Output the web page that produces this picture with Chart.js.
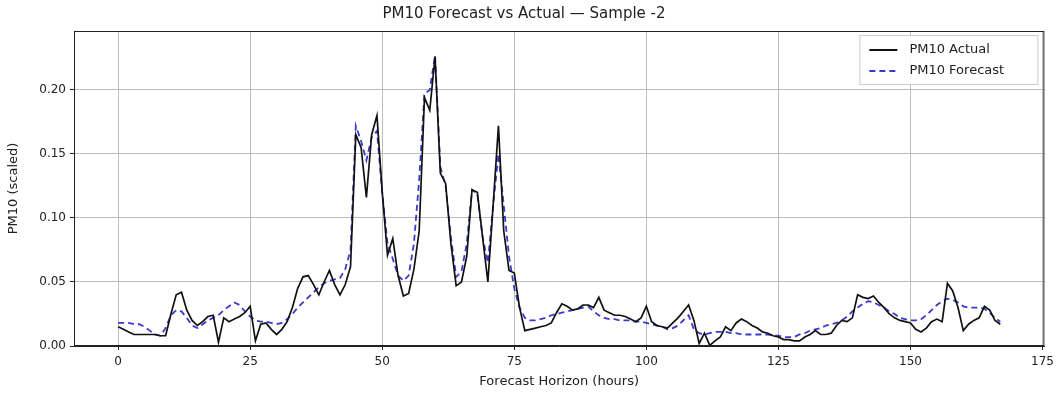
<!DOCTYPE html>
<html>
<head>
<meta charset="utf-8">
<script src="https://cdn.jsdelivr.net/npm/chart.js@4"></script>
<style>
  body { margin: 0; background: #fff; }
</style>
</head>
<body>
<canvas id="pmChart" width="1059" height="398"></canvas>
<script>
// forecast horizon, one point per hour
var hours = Array.from({ length: 168 }, (_, i) => i);

var actual = [
    0.015, 0.013, 0.011, 0.009, 0.009, 0.009, 0.009, 0.009, 0.008, 0.008,
    0.025, 0.040, 0.042, 0.028, 0.020, 0.016, 0.019, 0.023, 0.024, 0.003,
    0.022, 0.019, 0.021, 0.023, 0.026, 0.031, 0.004, 0.017, 0.018, 0.013,
    0.009, 0.013, 0.019, 0.030, 0.045, 0.054, 0.055, 0.048, 0.040, 0.050,
    0.059, 0.048, 0.040, 0.048, 0.062, 0.165, 0.155, 0.116, 0.165, 0.180,
    0.120, 0.071, 0.084, 0.055, 0.039, 0.041, 0.060, 0.090, 0.194, 0.184,
    0.226, 0.135, 0.127, 0.080, 0.047, 0.050, 0.070, 0.122, 0.120, 0.085,
    0.050, 0.110, 0.172, 0.090, 0.059, 0.057, 0.030, 0.012, 0.013, 0.014,
    0.015, 0.016, 0.018, 0.026, 0.033, 0.031, 0.028, 0.029, 0.032, 0.032,
    0.030, 0.038, 0.028, 0.026, 0.024, 0.024, 0.023, 0.021, 0.019, 0.022,
    0.031, 0.019, 0.016, 0.015, 0.014, 0.018, 0.022, 0.027, 0.032, 0.020,
    0.002, 0.010, 0.0005, 0.004, 0.007, 0.015, 0.012, 0.018, 0.021, 0.019,
    0.016, 0.014, 0.011, 0.010, 0.008, 0.007, 0.005, 0.005, 0.004, 0.004,
    0.007, 0.009, 0.012, 0.009, 0.009, 0.010, 0.016, 0.020, 0.019, 0.022,
    0.040, 0.038, 0.037, 0.039, 0.034, 0.030, 0.025, 0.022, 0.020, 0.019,
    0.018, 0.013, 0.011, 0.014, 0.019, 0.021, 0.019, 0.049, 0.043, 0.030,
    0.012, 0.017, 0.020, 0.022, 0.031, 0.028, 0.020, 0.017
];

var forecast = [
    0.018, 0.018, 0.018, 0.017, 0.017, 0.015, 0.012, 0.009, 0.008, 0.014,
    0.024, 0.028, 0.027, 0.022, 0.016, 0.014, 0.017, 0.020, 0.022, 0.024,
    0.028, 0.031, 0.034, 0.032, 0.027, 0.023, 0.020, 0.019, 0.019, 0.018,
    0.017, 0.018, 0.021, 0.025, 0.030, 0.034, 0.038, 0.042, 0.046, 0.049,
    0.051, 0.052, 0.053, 0.060, 0.075, 0.172, 0.160, 0.145, 0.163, 0.168,
    0.120, 0.080, 0.068, 0.055, 0.051, 0.055, 0.080, 0.130, 0.197, 0.200,
    0.227, 0.140, 0.125, 0.085, 0.054, 0.058, 0.080, 0.122, 0.119, 0.085,
    0.065, 0.110, 0.150, 0.110, 0.070, 0.045, 0.030, 0.022, 0.020, 0.020,
    0.021, 0.022, 0.024, 0.025, 0.026, 0.027, 0.028, 0.029, 0.030, 0.031,
    0.027, 0.024, 0.022, 0.021, 0.021, 0.020, 0.020, 0.020, 0.019, 0.019,
    0.018, 0.017, 0.016, 0.015, 0.013, 0.014, 0.016, 0.020, 0.024, 0.013,
    0.010, 0.009, 0.010, 0.011, 0.011, 0.011, 0.010, 0.010, 0.009, 0.009,
    0.009, 0.009, 0.009, 0.009, 0.008, 0.008, 0.007, 0.007, 0.007, 0.009,
    0.010, 0.012, 0.013, 0.014, 0.016, 0.017, 0.018, 0.020, 0.023, 0.027,
    0.030, 0.033, 0.035, 0.034, 0.032, 0.030, 0.027, 0.025, 0.022, 0.021,
    0.020, 0.020, 0.021, 0.024, 0.028, 0.032, 0.035, 0.037, 0.036, 0.034,
    0.031, 0.030, 0.030, 0.030, 0.029, 0.026, 0.022, 0.019
];

var xTicks = [0, 25, 50, 75, 100, 125, 150, 175];
var yTicks = [0, 0.05, 0.10, 0.15, 0.20];

var FONT = 'DejaVu Sans';
var BLUE = 'rgba(35, 35, 200, 0.9)';
var GRID = '#bdbdbd';

// black frame round the plot + legend box (matplotlib style)
var framePlugin = {
    id: 'frame',
    afterDraw: function (chart) {
        var c = chart.ctx, a = chart.chartArea;
        c.save();
        c.strokeStyle = '#222';
        c.lineWidth = 1;
        c.strokeRect(a.left + 0.5, a.top + 0.5, a.right - a.left - 1, a.bottom - a.top - 1);

        // legend
        var bx = a.right - 185, by = a.top + 4, bw = 178, bh = 49;
        c.fillStyle = 'rgba(255,255,255,0.85)';
        c.strokeStyle = '#ccc';
        c.fillRect(bx, by, bw, bh);
        c.strokeRect(bx + 0.5, by + 0.5, bw, bh);
        c.font = '13px ' + FONT;
        c.textBaseline = 'middle';
        chart.data.datasets.forEach(function (ds, i) {
            var ly = by + 15 + i * 21;
            c.beginPath();
            c.strokeStyle = ds.borderColor;
            c.lineWidth = 2;
            c.setLineDash(ds.borderDash || []);
            c.moveTo(bx + 10, ly);
            c.lineTo(bx + 38, ly);
            c.stroke();
            c.setLineDash([]);
            c.fillStyle = '#222';
            c.fillText(ds.label, bx + 50, ly);
        });
        c.restore();
    }
};

var ctx = document.getElementById('pmChart');
new Chart(ctx, {
    type: 'line',
    data: {
        labels: hours,
        datasets: [
            {
                label: 'PM10 Actual',
                data: hours.map((h, i) => ({ x: h, y: actual[i] })),
                borderColor: '#111',
                borderWidth: 1.7,
                pointRadius: 0,
                tension: 0,
                fill: false
            },
            {
                label: 'PM10 Forecast',
                data: hours.map((h, i) => ({ x: h, y: forecast[i] })),
                borderColor: BLUE,
                borderWidth: 1.8,
                borderDash: [6, 4],
                pointRadius: 0,
                tension: 0,
                fill: false
            }
        ]
    },
    options: {
        responsive: false,
        animation: false,
        layout: { padding: { left: 0, right: 11, top: 0, bottom: 0 } },
        plugins: {
            legend: { display: false },
            tooltip: { enabled: false },
            title: {
                display: true,
                text: 'PM10 Forecast vs Actual — Sample -2',
                color: '#222',
                font: { family: FONT, size: 15, weight: 'normal' },
                padding: { top: 5, bottom: 8 }
            }
        },
        scales: {
            x: {
                type: 'linear',
                min: -8.35,
                max: 175.35,
                afterBuildTicks: function (s) { s.ticks = xTicks.map(v => ({ value: v })); },
                afterFit: function (s) { s.height = 52; },
                ticks: {
                    color: '#222',
                    font: { family: FONT, size: 12 },
                    padding: 5,
                    maxRotation: 0,
                    callback: function (v) { return v; }
                },
                grid: { color: GRID, tickColor: '#222', tickLength: 4 },
                border: { color: '#222' },
                title: {
                    display: true,
                    text: 'Forecast Horizon (hours)',
                    color: '#222',
                    font: { family: FONT, size: 13 },
                    padding: { top: 2, bottom: 9 }
                }
            },
            y: {
                min: 0,
                max: 0.246,
                afterBuildTicks: function (s) { s.ticks = yTicks.map(v => ({ value: v })); },
                afterFit: function (s) { s.width = 74; },
                ticks: {
                    color: '#222',
                    font: { family: FONT, size: 12 },
                    padding: 4,
                    callback: function (v) { return v.toFixed(2); }
                },
                grid: { color: GRID, tickColor: '#222', tickLength: 4 },
                border: { color: '#222' },
                title: {
                    display: true,
                    text: 'PM10 (scaled)',
                    color: '#222',
                    font: { family: FONT, size: 13 },
                    padding: { top: 6, bottom: 4 }
                }
            }
        }
    },
    plugins: [framePlugin]
});
</script>
</body>
</html>
